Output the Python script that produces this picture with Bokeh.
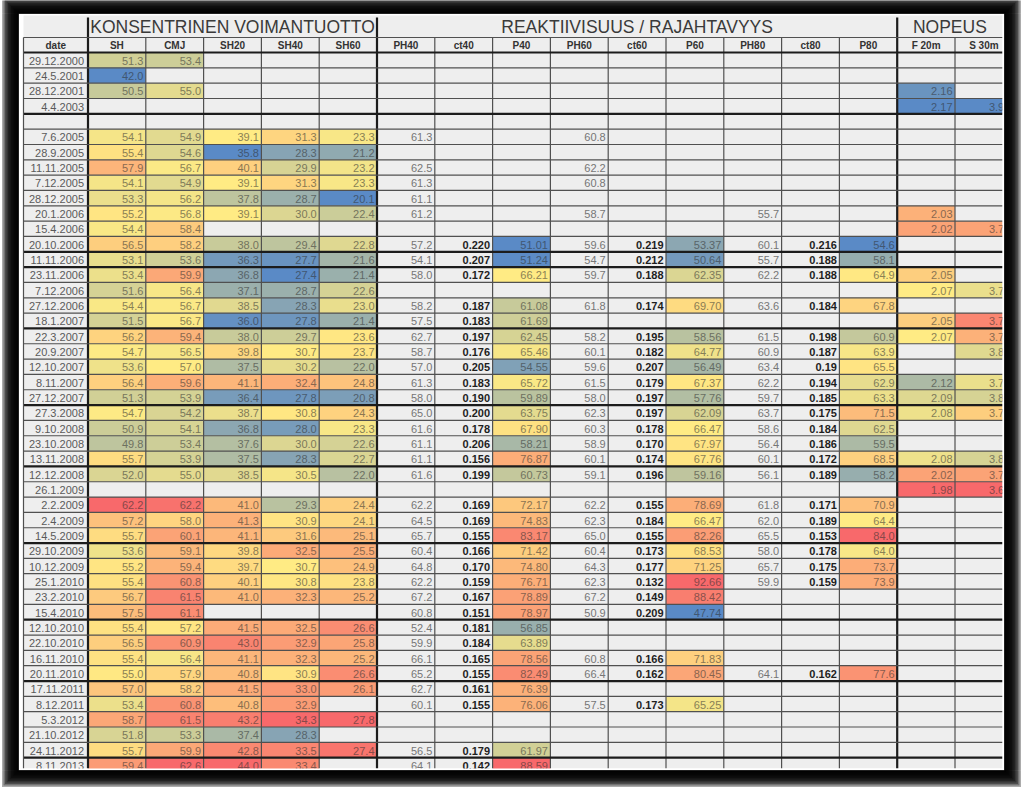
import numpy as np
from bokeh.plotting import figure
from bokeh.models import Range1d, ColumnDataSource
from bokeh.embed import file_html
from bokeh.resources import INLINE
from bokeh.core.properties import value

N = None
dates = ["29.12.2000", "24.5.2001", "28.12.2001", "4.4.2003", "", "7.6.2005", "28.9.2005",
         "11.11.2005", "7.12.2005", "28.12.2005", "20.1.2006", "15.4.2006", "20.10.2006",
         "11.11.2006", "23.11.2006", "7.12.2006", "27.12.2006", "18.1.2007", "22.3.2007",
         "20.9.2007", "12.10.2007", "8.11.2007", "27.12.2007", "27.3.2008", "9.10.2008",
         "23.10.2008", "13.11.2008", "12.12.2008", "26.1.2009", "2.2.2009", "2.4.2009",
         "14.5.2009", "29.10.2009", "10.12.2009", "25.1.2010", "23.2.2010", "15.4.2010",
         "12.10.2010", "22.10.2010", "16.11.2010", "20.11.2010", "17.11.2011", "8.12.2011",
         "5.3.2012", "21.10.2012", "24.11.2012", "8.11.2013"]

SH = [51.3, 42.0, 50.5, N, N, 54.1, 55.4, 57.9, 54.1, 53.3, 55.2, 54.4, 56.5, 53.1, 53.4, 51.6,
      54.4, 51.5, 56.2, 54.7, 53.6, 56.4, 51.3, 54.7, 50.9, 49.8, 55.7, 52.0, N, 62.2, 57.2, 55.7,
      53.6, 55.2, 55.4, 56.7, 57.5, 55.4, 56.5, 55.4, 55.0, 57.0, 53.4, 58.7, 51.8, 55.7, 59.4]
CMJ = [53.4, N, 55.0, N, N, 54.9, 54.6, 56.7, 54.9, 56.2, 56.8, 58.4, 58.2, 53.6, 59.9, 56.4,
       56.7, 56.7, 59.4, 56.5, 57.0, 59.6, 53.9, 54.2, 54.1, 53.4, 53.9, 55.0, N, 62.2, 58.0, 60.1,
       59.1, 59.4, 60.8, 61.5, 61.1, 57.2, 60.9, 56.4, 57.9, 58.2, 60.8, 61.5, 53.3, 59.9, 62.6]
SH20 = [N, N, N, N, N, 39.1, 35.8, 40.1, 39.1, 37.8, 39.1, N, 38.0, 36.3, 36.8, 37.1, 38.5, 36.0,
        38.0, 39.8, 37.5, 41.1, 36.4, 38.7, 36.8, 37.6, 37.5, 38.5, N, 41.0, 41.3, 41.1, 39.8, 39.7,
        40.1, 41.0, N, 41.5, 43.0, 41.1, 40.8, 41.5, 40.8, 43.2, 37.4, 42.8, 44.0]
SH40 = [N, N, N, N, N, 31.3, 28.3, 29.9, 31.3, 28.7, 30.0, N, 29.4, 27.7, 27.4, 28.7, 28.3, 27.8,
        29.7, 30.7, 30.2, 32.4, 27.8, 30.8, 28.0, 30.0, 28.3, 30.5, N, 29.3, 30.9, 31.6, 32.5, 30.7,
        30.8, 32.3, N, 32.5, 32.9, 32.3, 30.9, 33.0, 32.9, 34.3, 28.3, 33.5, 33.4]
SH60 = [N, N, N, N, N, 23.3, 21.2, 23.2, 23.3, 20.1, 22.4, N, 22.8, 21.6, 21.4, 22.6, 23.0, 21.4,
        23.6, 23.7, 22.0, 24.8, 20.8, 24.3, 23.3, 22.6, 22.7, 22.0, N, 24.4, 24.1, 25.1, 25.5, 24.9,
        23.8, 25.2, N, 26.6, 25.8, 25.2, 26.6, 26.1, N, 27.8, N, 27.4, N]
PH40 = [N, N, N, N, N, 61.3, N, 62.5, 61.3, 61.1, 61.2, N, 57.2, 54.1, 58.0, N, 58.2, 57.5, 62.7,
        58.7, 57.0, 61.3, 58.0, 65.0, 61.6, 61.1, 61.1, 61.6, N, 62.2, 64.5, 65.7, 60.4, 64.8, 62.2,
        67.2, 60.8, 52.4, 59.9, 66.1, 65.2, 62.7, 60.1, N, N, 56.5, 64.1]
ct40 = [N] * 12 + ["0.220", "0.207", "0.172", N, "0.187", "0.183", "0.197", "0.176", "0.205",
                   "0.183", "0.190", "0.200", "0.178", "0.206", "0.156", "0.199", N, "0.169",
                   "0.169", "0.155", "0.166", "0.170", "0.159", "0.167", "0.151", "0.181", "0.184",
                   "0.165", "0.155", "0.161", "0.155", N, N, "0.179", "0.142"]
P40 = [N] * 12 + [51.01, 51.24, 66.21, N, 61.08, 61.69, 62.45, 65.46, 54.55, 65.72, 59.89, 63.75,
                  67.90, 58.21, 76.87, 60.73, N, 72.17, 74.83, 83.17, 71.42, 74.80, 76.71, 78.89,
                  78.97, 56.85, 63.89, 78.56, 82.49, 76.39, 76.06, N, N, 61.97, 88.59]
PH60 = [N, N, N, N, N, 60.8, N, 62.2, 60.8, N, 58.7, N, 59.6, 54.7, 59.7, N, 61.8, N, 58.2, 60.1,
        59.6, 61.5, 58.0, 62.3, 60.3, 58.9, 60.1, 59.1, N, 62.2, 62.3, 65.0, 60.4, 64.3, 62.3, 67.2,
        50.9, N, N, 60.8, 66.4, N, 57.5, N, N, N, N]
ct60 = [N] * 12 + ["0.219", "0.212", "0.188", N, "0.174", N, "0.195", "0.182", "0.207", "0.179",
                   "0.197", "0.197", "0.178", "0.170", "0.174", "0.196", N, "0.155", "0.184",
                   "0.155", "0.173", "0.177", "0.132", "0.149", "0.209", N, N, "0.166", "0.162",
                   N, "0.173", N, N, N, N]
P60 = [N] * 12 + [53.37, 50.64, 62.35, N, 69.70, N, 58.56, 64.77, 56.49, 67.37, 57.76, 62.09,
                  66.47, 67.97, 67.76, 59.16, N, 78.69, 66.47, 82.26, 68.53, 71.25, 92.66, 88.42,
                  47.74, N, N, 71.83, 80.45, N, 65.25, N, N, N, N]
PH80 = [N] * 10 + [55.7, N, 60.1, 55.7, 62.2, N, 63.6, N, 61.5, 60.9, 63.4, 62.2, 59.7, 63.7,
                   58.6, 56.4, 60.1, 56.1, N, 61.8, 62.0, 65.5, 58.0, 65.7, 59.9, N, N, N, N, N,
                   64.1, N, N, N, N, N, N]
ct80 = [N] * 12 + ["0.216", "0.188", "0.188", N, "0.184", N, "0.198", "0.187", "0.19", "0.194",
                   "0.185", "0.175", "0.184", "0.186", "0.172", "0.189", N, "0.171", "0.189",
                   "0.153", "0.178", "0.175", "0.159", N, N, N, N, N, "0.162", N, N, N, N, N, N]
P80 = [N] * 12 + [54.6, 58.1, 64.9, N, 67.8, N, 60.9, 63.9, 65.5, 62.9, 63.3, 71.5, 62.5, 59.5,
                  68.5, 58.2, N, 70.9, 64.4, 84.0, 64.0, 73.7, 73.9, N, N, N, N, N, 77.6, N, N, N,
                  N, N, N]
F20m = [N, N, 2.16, 2.17, N, N, N, N, N, N, 2.03, 2.02, N, N, 2.05, 2.07, N, 2.05, 2.07, N, N,
        2.12, 2.09, 2.08, N, N, 2.08, 2.02, 1.98] + [N] * 18
S30m = [N, N, N, 3.93, N, N, N, N, N, N, N, 3.72, N, N, N, 3.79, N, 3.70, 3.73, 3.80, N, 3.79,
        3.81, 3.75, N, N, 3.81, 3.72, 3.68] + [N] * 18

group_titles = ["KONSENTRINEN VOIMANTUOTTO", "REAKTIIVISUUS / RAJAHTAVYYS", "NOPEUS"]
group_spans = [(0, 5), (5, 14), (14, 16)]

columns = [("SH", SH, "scale", 1), ("CMJ", CMJ, "scale", 1), ("SH20", SH20, "scale", 1),
           ("SH40", SH40, "scale", 1), ("SH60", SH60, "scale", 1),
           ("PH40", PH40, "plain", 1), ("ct40", ct40, "bold", 0), ("P40", P40, "scale", 2),
           ("PH60", PH60, "plain", 1), ("ct60", ct60, "bold", 0), ("P60", P60, "scale", 2),
           ("PH80", PH80, "plain", 1), ("ct80", ct80, "bold", 0), ("P80", P80, "scale", 1),
           ("F 20m", F20m, "rev", 2), ("S 30m", S30m, "rev", 2)]
scale_low_override = {"CMJ": 45.0}

# ---------------- layout / style ----------------
W, H = 1024, 792
LEFT, DATE_W, COL_W = 23.0, 64.5, 57.8
TITLE_TOP, HEAD_TOP, BODY_TOP, ROW_H = 15.0, 37.0, 52.0, 15.33
CLIP_R, CLIP_B = 1002.0, 768.0
PIC = (18.0, 13.0, 1004.0, 770.0)
FONT = value("Liberation Sans")
BLUE, YEL, RED = (0x5A, 0x8A, 0xC6), (0xFF, 0xEB, 0x84), (0xF8, 0x69, 0x6B)
thick_after = {4, 13, 14, 18, 23, 27, 32, 37, 41, 46}


def lerp(a, b, t):
    t = min(max(t, 0.0), 1.0)
    return tuple(a[i] + (b[i] - a[i]) * t for i in range(3))


def hexc(c):
    return "#%02x%02x%02x" % tuple(int(round(v)) for v in c)


def scale_rgb(v, lo, mid, hi, rev):
    if rev:
        v, lo, mid, hi = -v, -hi, -mid, -lo
    if v <= mid:
        return lerp(BLUE, YEL, (v - lo) / (mid - lo) if mid > lo else 1.0)
    return lerp(YEL, RED, (v - mid) / (hi - mid) if hi > mid else 0.0)


nrows = len(dates)
edges = [LEFT, LEFT + DATE_W] + [LEFT + DATE_W + COL_W * (k + 1) for k in range(len(columns))]
row_top = [BODY_TOP + i * ROW_H for i in range(nrows)]

p = figure(width=W, height=H, x_range=Range1d(0, W), y_range=Range1d(H, 0),
           output_backend="svg", toolbar_location=None, x_axis_location=None,
           y_axis_location=None, min_border=0, outline_line_color=None,
           background_fill_color="white", border_fill_color="white")
p.grid.visible = False

# picture + table background
p.quad(left=[PIC[0]], right=[PIC[2]], top=[PIC[1]], bottom=[PIC[3]], fill_color="white",
       line_color=None)
p.quad(left=[LEFT], right=[CLIP_R], top=[TITLE_TOP], bottom=[CLIP_B], fill_color="#eeeeee",
       line_color=None)

cell = dict(l=[], r=[], t=[], b=[], c=[])
txt = dict(x=[], y=[], s=[], c=[])
btxt = dict(x=[], y=[], s=[])
for j, (name, vals, kind, dec) in enumerate(columns):
    x0, x1 = edges[j + 1], edges[j + 2]
    if kind in ("scale", "rev"):
        nums = np.array([v for v in vals if v is not None], dtype=float)
        lo, mid, hi = nums.min(), float(np.median(nums)), nums.max()
        lo = scale_low_override.get(name, lo)
    for i, v in enumerate(vals):
        if v is None:
            continue
        yc = row_top[i] + ROW_H / 2 + 0.5
        if kind == "bold":
            btxt["x"].append(x1 - 2.5); btxt["y"].append(yc); btxt["s"].append(v)
            continue
        s = f"{v:.{dec}f}"
        if kind == "plain":
            col = "#767676"
        else:
            rgb = scale_rgb(v, lo, mid, hi, kind == "rev")
            cell["l"].append(x0); cell["r"].append(min(x1, CLIP_R))
            cell["t"].append(row_top[i]); cell["b"].append(row_top[i] + ROW_H)
            cell["c"].append(hexc(rgb))
            col = hexc(lerp(rgb, (45, 45, 45), 0.55))
        txt["x"].append(x1 - 2.5); txt["y"].append(yc); txt["s"].append(s); txt["c"].append(col)

p.quad(left="l", right="r", top="t", bottom="b", fill_color="c", line_color=None,
       source=ColumnDataSource(cell))
p.text(x="x", y="y", text="s", text_color="c", text_align="right", text_baseline="middle",
       text_font=FONT, text_font_size="11px", source=ColumnDataSource(txt))
p.text(x="x", y="y", text="s", text_color="#1e1e1e", text_align="right", text_baseline="middle",
       text_font=FONT, text_font_size="11px", text_font_style="bold",
       source=ColumnDataSource(btxt))

# dates
p.text(x=[edges[1] - 4] * nrows, y=[t + ROW_H / 2 + 0.5 for t in row_top], text=dates,
       text_color="#5a5a5a", text_align="right", text_baseline="middle", text_font=FONT,
       text_font_size="11px")

# header labels
hx = [(edges[0] + edges[1]) / 2] + [(edges[j + 1] + edges[j + 2]) / 2 for j in range(len(columns))]
hl = ["date"] + [c[0] for c in columns]
p.text(x=hx, y=[(HEAD_TOP + BODY_TOP) / 2 + 0.5] * len(hl), text=hl, text_color="#333333",
       text_align="center", text_baseline="middle", text_font=FONT, text_font_size="10px",
       text_font_style="bold")

# group titles
gx = [(edges[a + 1] + min(edges[b + 1], CLIP_R)) / 2 for a, b in group_spans]
p.text(x=gx, y=[(TITLE_TOP + HEAD_TOP) / 2 + 0.5] * 3, text=group_titles, text_color="#3a3a3a",
       text_align="center", text_baseline="middle", text_font=FONT, text_font_size="17.5px")

# grid lines
seg = dict(x0=[], y0=[], x1=[], y1=[], c=[], w=[])


def add(x0, y0, x1, y1, thick):
    seg["x0"].append(x0); seg["y0"].append(y0); seg["x1"].append(x1); seg["y1"].append(y1)
    seg["c"].append("#1c1c1c" if thick else "#505050"); seg["w"].append(2.2 if thick else 1.2)


group_edges = {edges[1]} | {edges[a + 1] for a, b in group_spans}
for x in edges[1:]:
    if x >= CLIP_R:
        continue
    if x in group_edges:
        add(x, TITLE_TOP + 2, x, CLIP_B, True)
    else:
        add(x, HEAD_TOP, x, CLIP_B, False)
add(LEFT, HEAD_TOP, CLIP_R, HEAD_TOP, False)
add(LEFT, BODY_TOP, CLIP_R, BODY_TOP, True)
for i in range(1, nrows + 1):
    y = BODY_TOP + i * ROW_H
    if y < CLIP_B:
        add(LEFT, y, CLIP_R, y, i in thick_after)
add(LEFT, HEAD_TOP, LEFT, CLIP_B, False)
p.segment(x0="x0", y0="y0", x1="x1", y1="y1", line_color="c", line_width="w",
          source=ColumnDataSource(seg))

# clip overflow with white, then shadow frame
p.quad(left=[CLIP_R, 0], right=[W, W], top=[0, CLIP_B], bottom=[H, H],
       fill_color="white", line_color=None)
L, T, R, B = PIC
fr = dict(l=[], r=[], t=[], b=[])
for k in range(11):
    d = 1.5 * (k + 1)
    for (l, r, t, b) in [(L - d, R + d, T - d, T), (L - d, R + d, B, B + d),
                         (L - d, L, T, B), (R, R + d, T, B)]:
        fr["l"].append(l); fr["r"].append(r); fr["t"].append(t); fr["b"].append(b)
p.quad(left="l", right="r", top="t", bottom="b", fill_color="black", fill_alpha=0.33,
       line_color=None, source=ColumnDataSource(fr))

open("out.html", "w").write(file_html(p, INLINE))
